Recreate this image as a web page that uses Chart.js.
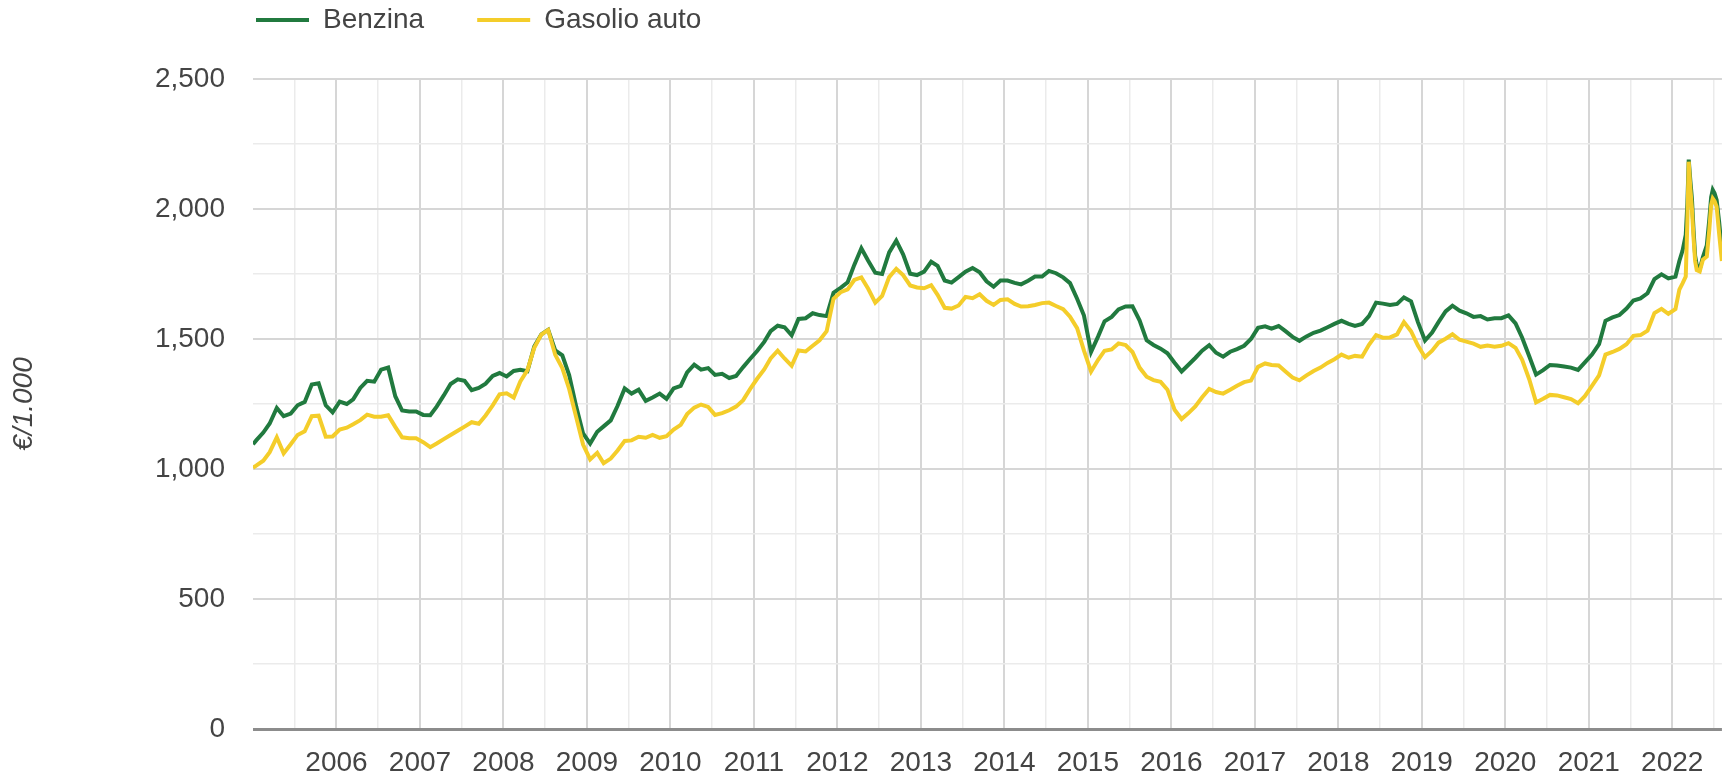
<!DOCTYPE html>
<html>
<head>
<meta charset="utf-8">
<script src="https://cdn.jsdelivr.net/npm/chart.js@4/dist/chart.umd.min.js"></script>
<style>
html,body{margin:0;padding:0;background:#fff;overflow:hidden}
canvas{display:block}
</style>
</head>
<body>
<canvas id="c" width="1731" height="778"></canvas>
<script>
const seriesNames = ['Benzina', 'Gasolio auto'];
const yearLabels = ['2006','2007','2008','2009','2010','2011','2012','2013','2014','2015','2016','2017','2018','2019','2020','2021','2022'];
const yTickLabels = ['0', '500', '1,000', '1,500', '2,000', '2,500'];
const yAxisTitle = '€/1.000';

// Dates: first day of the series, the 15th of each month 2005-2021, then finer 2022 sampling
const dates = ['2005-01-01'];
for (let y = 2005; y <= 2021; y++) {
  for (let m = 1; m <= 12; m++) dates.push(y + '-' + String(m).padStart(2, '0') + '-15');
}
dates.push('2022-01-15','2022-02-01','2022-02-15','2022-03-01','2022-03-08','2022-03-14','2022-03-21',
  '2022-03-28','2022-04-04','2022-04-11','2022-04-18','2022-05-01','2022-05-15','2022-06-01','2022-06-12',
  '2022-06-20','2022-06-27','2022-07-05','2022-07-14','2022-07-25','2022-08-06');

const benzina = [1095,
  1110, 1140, 1175, 1235, 1203, 1213, 1245, 1258, 1325, 1330, 1245, 1218,
  1259, 1250, 1268, 1312, 1339, 1336, 1382, 1390, 1280, 1225, 1221, 1221,
  1208, 1207, 1240, 1283, 1327, 1345, 1339, 1303, 1312, 1328, 1358, 1369,
  1356, 1377, 1382, 1376, 1471, 1518, 1535, 1456, 1437, 1361, 1240, 1137,
  1098, 1143, 1164, 1187, 1243, 1310, 1290, 1305, 1262, 1275, 1290, 1270,
  1310, 1320, 1372, 1401, 1382, 1388, 1362, 1366, 1350, 1358, 1392, 1423,
  1454, 1489, 1530, 1551, 1545, 1514, 1577, 1580, 1599, 1592, 1588, 1678,
  1697, 1718, 1785, 1849, 1801, 1755, 1750, 1833, 1878, 1826, 1751, 1746,
  1759, 1797, 1781, 1725, 1717, 1738, 1759, 1773, 1757, 1722, 1701, 1725,
  1725, 1716, 1710, 1724, 1740, 1740, 1762, 1753, 1737, 1715, 1655, 1590,
  1450, 1510, 1568, 1585, 1614, 1625, 1626, 1572, 1495, 1477, 1463, 1445,
  1409, 1375, 1400, 1427, 1455, 1476, 1447, 1432, 1451, 1461, 1474, 1500,
  1543, 1549, 1540, 1550, 1530, 1508, 1493, 1510, 1524, 1532, 1545, 1558,
  1570, 1558, 1550, 1558, 1588, 1640, 1636, 1631, 1635, 1660, 1645, 1565,
  1494, 1525, 1565, 1606, 1628, 1609, 1599, 1585, 1588, 1575, 1580, 1580,
  1591, 1560, 1505, 1434, 1363, 1380, 1400, 1398, 1394, 1390, 1381, 1410,
  1440, 1480, 1570, 1583, 1592, 1617, 1648, 1656, 1676, 1730, 1749, 1733,
  1740, 1800, 1840, 1900, 2020, 2190, 2110, 2040, 1920, 1820, 1785, 1768, 1815, 1860, 1960, 2045, 2073, 2060, 2035, 1950, 1840];

const gasolio = [1005,
  1013, 1032, 1065, 1122, 1060, 1095, 1131, 1145, 1203, 1205, 1124, 1125,
  1152, 1159, 1172, 1188, 1209, 1201, 1201, 1207, 1162, 1122, 1118, 1118,
  1103, 1084, 1098, 1115, 1131, 1147, 1163, 1180, 1174, 1206, 1245, 1287,
  1291, 1275, 1337, 1380, 1466, 1517, 1535, 1439, 1388, 1308, 1199, 1094,
  1037, 1062, 1022, 1040, 1071, 1108, 1110, 1124, 1120, 1131, 1120, 1126,
  1152, 1170, 1211, 1236, 1248, 1239, 1208, 1215, 1226, 1240, 1265, 1307,
  1347, 1383, 1425, 1455, 1425, 1397, 1456, 1452, 1474, 1495, 1530, 1655,
  1680, 1691, 1727, 1737, 1693, 1640, 1666, 1738, 1770, 1746, 1706, 1698,
  1695, 1707, 1670, 1620, 1617, 1629, 1662, 1657, 1672, 1647, 1631, 1650,
  1653, 1635, 1625, 1626, 1631, 1638, 1640, 1627, 1615, 1586, 1542, 1455,
  1375, 1420, 1455, 1460, 1483, 1477, 1450, 1390, 1355, 1342, 1335, 1305,
  1228, 1192, 1214, 1241, 1276, 1308, 1296, 1290, 1305, 1320, 1334, 1340,
  1393, 1406, 1400, 1398, 1375, 1352, 1341, 1360, 1377, 1390, 1408, 1422,
  1440, 1428, 1435, 1432, 1478, 1515, 1505, 1506, 1518, 1565, 1530, 1475,
  1430, 1455, 1486, 1501, 1518, 1497, 1490, 1482, 1470, 1475, 1470, 1474,
  1484, 1466, 1420, 1345, 1256, 1270, 1285, 1283, 1276, 1269, 1253, 1280,
  1320, 1360, 1440, 1450, 1462, 1480, 1512, 1515, 1532, 1600, 1616, 1597,
  1615, 1690, 1714, 1740, 1950, 2182, 2080, 2000, 1890, 1800, 1765, 1760, 1805, 1817, 1920, 2015, 2040, 2030, 2009, 1905, 1800];

function decYear(s) {
  const p = s.split('-').map(Number);
  const start = Date.UTC(p[0], 0, 1), end = Date.UTC(p[0] + 1, 0, 1);
  return p[0] + (Date.UTC(p[0], p[1] - 1, p[2]) - start) / (end - start);
}

const xs = dates.map(decYear);
const toPoints = (vals) => vals.map((v, i) => ({ x: xs[i], y: v }));

const FONT = "'Liberation Sans', Arial, Helvetica, sans-serif";
const TEXT = '#444444';
const GREEN = '#217a3f';
const YELLOW = '#f4cd2a';
const GRID_MAJOR = '#d6d6d6';
const GRID_MINOR = '#ebebeb';
const BASELINE = '#8c8c8c';

const xTickValues = [];
yearLabels.forEach(l => { const y = Number(l); xTickValues.push(y - 0.5, y); });
xTickValues.push(Number(yearLabels[yearLabels.length - 1]) + 0.5);
const yTickValues = [];
for (let v = 0; v <= 2500; v += 250) yTickValues.push(v);

const legendPlacement = {
  id: 'legendPlacement',
  afterLayout(chart) {
    const lg = chart.legend;
    const pad = lg.options.labels.padding;
    lg.left = 256 - pad;
    lg.top = 20 - 14 - pad;
  }
};

new Chart(document.getElementById('c'), {
  type: 'line',
  data: {
    datasets: [
      { label: seriesNames[0], data: toPoints(benzina), borderColor: GREEN, backgroundColor: GREEN,
        borderWidth: 4, pointRadius: 0, tension: 0, order: 1 },
      { label: seriesNames[1], data: toPoints(gasolio), borderColor: YELLOW, backgroundColor: YELLOW,
        borderWidth: 4, pointRadius: 0, tension: 0, order: 0 }
    ]
  },
  options: {
    responsive: false,
    animation: false,
    devicePixelRatio: 1,
    layout: { padding: 0 },
    plugins: {
      legend: {
        display: true, position: 'top', align: 'start', maxHeight: 79,
        labels: {
          font: { family: FONT, size: 28 }, color: TEXT,
          boxWidth: 53, boxHeight: 4, padding: 53,
          sort: (a, b) => a.datasetIndex - b.datasetIndex,
          generateLabels: (chart) => Chart.defaults.plugins.legend.labels.generateLabels(chart)
            .map(l => Object.assign(l, { lineWidth: 0 }))
        }
      },
      tooltip: { enabled: false }
    },
    scales: {
      x: {
        type: 'linear', min: 2005, max: 2022.595,
        afterBuildTicks: (s) => { s.ticks = xTickValues.map(v => ({ value: v })); },
        afterFit: (s) => { s.height = 49; },
        ticks: {
          autoSkip: false, maxRotation: 0, minRotation: 0, padding: 17,
          font: { family: FONT, size: 28 }, color: TEXT,
          callback: (v) => Number.isInteger(v) ? yearLabels[v - 2006] : ''
        },
        grid: {
          drawTicks: false,
          color: (c) => (c.tick && Number.isInteger(c.tick.value)) ? GRID_MAJOR : GRID_MINOR,
          lineWidth: (c) => (c.tick && Number.isInteger(c.tick.value)) ? 2 : 1.5
        },
        border: { display: false }
      },
      y: {
        type: 'linear', min: 0, max: 2500,
        afterBuildTicks: (s) => { s.ticks = yTickValues.map(v => ({ value: v })); },
        afterFit: (s) => { s.width = 253; },
        ticks: {
          autoSkip: false, padding: 28,
          font: { family: FONT, size: 28 }, color: TEXT,
          callback: (v) => (v % 500 === 0) ? yTickLabels[v / 500] : ''
        },
        grid: {
          drawTicks: false,
          color: (c) => c.tick.value === 0 ? BASELINE : (c.tick.value % 500 === 0 ? GRID_MAJOR : GRID_MINOR),
          lineWidth: (c) => c.tick.value === 0 ? 3 : (c.tick.value % 500 === 0 ? 2 : 1.5)
        },
        border: { display: false },
        title: {
          display: true, text: yAxisTitle, color: TEXT,
          font: { family: FONT, size: 28, style: 'italic' },
          padding: { top: 7, bottom: 0 }
        }
      }
    }
  },
  plugins: [legendPlacement]
});
</script>
</body>
</html>
